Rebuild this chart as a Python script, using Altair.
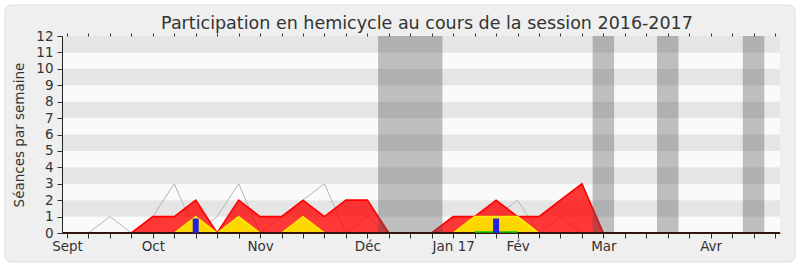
import altair as alt
import pandas as pd

# ---- data (weekly, week index 0 = first week of September 2016) ----
weeks = list(range(34))
presences = [0, 0, 0, 0, 1, 1, 2, 0, 2, 1, 1, 2, 1, 2, 2, 0, 0, 0, 1, 1, 2, 1, 1, 2, 3, 0,
             0, 0, 0, 0, 0, 0, 0, 0]
interventions = [0, 0, 0, 0, 0, 0, 1, 0, 1, 0, 0, 1, 0, 0, 0, 0, 0, 0, 0, 1, 1, 1, 0, 0, 0, 0,
                 0, 0, 0, 0, 0, 0, 0, 0]
mediane = [0, 0, 1, 0, 1, 3, 0, 1, 3, 0, 1, 2, 3, 0, 1, 0, 0, 0, 0, 1, 1, 2, 0, 1, 0, 0,
           0, 0, 0, 0, 0, 0, 0, 0]
green_weeks = [19, 20, 21]
green_values = [0.06, 0.06, 0.06]
question_weeks = [6, 20]
question_values = [0.88, 0.88]
vac_start = [14.5, 24.5, 27.5, 31.5]
vac_end = [17.5, 25.5, 28.5, 32.5]
month_labels = ["Sept", "Oct", "Nov", "Déc", "Jan 17", "Fév", "Mar", "Avr"]
month_weeks = [0, 4, 9, 14, 18, 21, 25, 30]
y_ticks = list(range(13))

title = "Participation en hemicycle au cours de la session 2016-2017"
y_title = "Séances par semaine"

FONT = "DejaVu Sans"
TXT = "#333333"

df = pd.DataFrame({"week": weeks, "presences": presences,
                   "interventions": interventions, "mediane": mediane})
df_green = pd.DataFrame({"week": green_weeks, "value": green_values})
df_q = pd.DataFrame({"week": question_weeks, "value": question_values})
df_vac = pd.DataFrame({"start": vac_start, "end": vac_end})
df_stripes = pd.DataFrame({"y0": y_ticks[:-1], "y1": y_ticks[1:],
                           "shade": ["light" if i % 2 == 0 else "dark" for i in y_ticks[:-1]]})

expr = ""
for w, lab in zip(month_weeks, month_labels):
    expr += f"datum.value == {w} ? '{lab}' : "
expr += "''"

xs = alt.Scale(domain=[0, 33], nice=False, zero=False)
ys = alt.Scale(domain=[0, 12], nice=False)

y_axis = alt.Axis(values=y_ticks, title=y_title, tickSize=5, tickColor=TXT,
                  domainColor="#222222", labelFontSize=13.5, labelColor=TXT, labelFont=FONT,
                  titleFontSize=13.5, titleColor=TXT, titleFontWeight="normal", titleFont=FONT,
                  grid=False, labelPadding=4, titlePadding=9, zindex=1)

x_bottom = alt.Axis(values=weeks, labelExpr=expr, tickSize=5, tickColor=TXT,
                    domainColor="#3a1510", labelFontSize=13.5, labelColor=TXT, labelFont=FONT,
                    labelPadding=1, labelFlush=False, labelOverlap=False, labelBound=False,
                    grid=False, title=None, zindex=1)
x_top = alt.Axis(orient="top", values=weeks, labels=False, tickSize=3, tickColor=TXT,
                 domain=False, grid=False, title=None, zindex=1)

panel = alt.Chart(pd.DataFrame({"a": [0]})).mark_rect(
    cornerRadius=6, fill="#efefef", stroke="#dddddd", strokeWidth=1
).encode(x=alt.value(-57), x2=alt.value(733), y=alt.value(-31), y2=alt.value(226))

stripes = alt.Chart(df_stripes).mark_rect().encode(
    y=alt.Y("y0:Q", scale=ys, axis=y_axis),
    y2="y1:Q",
    color=alt.Color("shade:N", scale=alt.Scale(domain=["light", "dark"],
                                               range=["#fafafa", "#e5e5e5"]), legend=None),
)

grey = alt.Chart(df).mark_line(color="#b4b4b4", strokeWidth=1).encode(
    x=alt.X("week:Q", scale=xs, axis=x_top),
    y=alt.Y("mediane:Q", scale=ys, axis=y_axis),
)

red_area = alt.Chart(df).mark_area(color="#ff0000", opacity=0.78).encode(
    x=alt.X("week:Q", scale=xs, axis=x_bottom),
    y=alt.Y("presences:Q", scale=ys, axis=y_axis),
)
red_line = alt.Chart(df).mark_line(color="#ff0000", strokeWidth=1.6).encode(
    x=alt.X("week:Q", scale=xs, axis=None),
    y=alt.Y("presences:Q", scale=ys, axis=y_axis),
)
yellow_area = alt.Chart(df).mark_area(color="#ffd700", opacity=1).encode(
    x=alt.X("week:Q", scale=xs, axis=None),
    y=alt.Y("interventions:Q", scale=ys, axis=y_axis),
)
yellow_line = alt.Chart(df).mark_line(color="#ffee00", strokeWidth=1.5).encode(
    x=alt.X("week:Q", scale=xs, axis=None),
    y=alt.Y("interventions:Q", scale=ys, axis=y_axis),
)
green = alt.Chart(df_green).mark_line(color="#00cc00", strokeWidth=1.5).encode(
    x=alt.X("week:Q", scale=xs, axis=None),
    y=alt.Y("value:Q", scale=ys, axis=y_axis),
)
bars = alt.Chart(df_q).mark_bar(color="#2222dd", size=6).encode(
    x=alt.X("week:Q", scale=xs, axis=None),
    y=alt.Y("value:Q", scale=ys, axis=y_axis),
)
vac = alt.Chart(df_vac).mark_rect(color="#4c4c4c", opacity=0.35).encode(
    x=alt.X("start:Q", scale=xs, axis=None),
    x2="end:Q",
)
zero_rule = alt.Chart(pd.DataFrame({"z": [0]})).mark_rule(color="#2a1410", strokeWidth=2.2).encode(
    y=alt.Y("z:Q", scale=ys, axis=y_axis),
)

chart = alt.layer(
    panel, stripes, grey, red_area, red_line, yellow_area, yellow_line, vac, zero_rule, green, bars
).resolve_axis(x="independent").properties(
    width=718, height=197,
    padding={"left": 62, "top": 36, "right": 20, "bottom": 34},
    autosize=alt.AutoSizeParams(type="none"),
    background="white",
    title=alt.TitleParams(title, fontSize=17.5, font=FONT, color=TXT, fontWeight="normal",
                          anchor="middle", dx=6, offset=0, baseline="alphabetic", dy=42),
).configure_view(stroke=None)

chart.save("out.html", embed_options={"renderer": "svg", "actions": False})
